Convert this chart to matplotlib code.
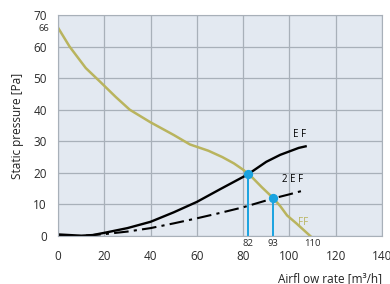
import matplotlib.pyplot as plt
import numpy as np

plt.rcParams['font.family'] = ['Open Sans', 'DejaVu Sans']

# curve data
ff_x = [0, 5, 12, 18, 25, 31, 40, 50, 57, 65, 71, 76, 80, 84, 88, 93, 96, 99, 103, 106, 109]
ff_y = [66, 60, 53.2, 49, 44, 40, 36, 32, 29, 27, 25, 23, 21, 18.5, 15.5, 12, 9.5, 6.5, 4, 2, 0]

ef_x = [0, 5, 10, 15, 20, 30, 40, 50, 60, 70, 82, 90, 96, 100, 104, 107]
ef_y = [0.5, 0.3, 0.1, 0.3, 1, 2.5, 4.5, 7.5, 10.8, 14.8, 19.5, 23.5, 25.7, 26.8, 27.9, 28.4]

ef2_x = [0, 10, 20, 30, 40, 50, 60, 70, 80, 93, 100, 106]
ef2_y = [0, 0, 0.6, 1.4, 2.5, 4, 5.6, 7.3, 9.1, 11.9, 13.2, 14.4]

op_x = [82, 93]
op_y = [19.5, 12]

x_ticks = [0, 20, 40, 60, 80, 100, 120, 140]
y_ticks = [0, 10, 20, 30, 40, 50, 60, 70]

ff_col = '#b9b45e'
blue = '#1aa3e0'

fig = plt.figure(figsize=(3.9, 2.84), dpi=100)
ax = fig.add_axes([58 / 390, 1 - 236 / 284, 324 / 390, 221 / 284])
ax.set_facecolor('#e3e9f1')

ax.plot(ff_x, ff_y, color=ff_col, lw=1.8)
ax.plot(ef_x, ef_y, color='black', lw=1.7)
ax.plot(ef2_x, ef2_y, color='black', lw=1.5, dashes=(7, 2.5, 1.5, 2.5))
ax.vlines(op_x, 0, op_y, color=blue, lw=1.4)
ax.scatter(op_x, op_y, s=32, color=blue, zorder=5)

ax.text(107, 30.3, 'E F', fontsize=7, ha='right', va='bottom')
ax.text(106, 16.0, '2 E F', fontsize=7, ha='right', va='bottom')
ax.text(108, 2.6, 'FF', fontsize=7, color=ff_col, ha='right', va='bottom')

ax.set_xlim(0, 140)
ax.set_ylim(0, 70)
ax.set_xticks(x_ticks)
ax.set_yticks(y_ticks)
ax.tick_params(length=0, labelsize=8.5, colors='#2a2a2a')
ax.tick_params(axis='x', pad=10)
ax.tick_params(axis='y', pad=8)
ax.grid(True, color='#a8b0b9', lw=0.9)
ax.set_axisbelow(True)
for s in ax.spines.values():
    s.set_color('#a8b0b9')

for v in op_x + [110]:
    ax.text(v, -0.8, str(v), fontsize=6.8, ha='center', va='top', color='#2a2a2a')
ax.text(-3.6, 65.6, '66', fontsize=6.8, ha='right', va='center', color='#2a2a2a')

ax.set_ylabel('Static pressure [Pa]', fontsize=8.5, labelpad=7, color='#222222')
fig.text(382 / 390, 1 - 279 / 284, 'Airfl ow rate [m³/h]', fontsize=8.5,
         ha='right', va='center', color='#222222')

fig.savefig('out.png', dpi=100)
